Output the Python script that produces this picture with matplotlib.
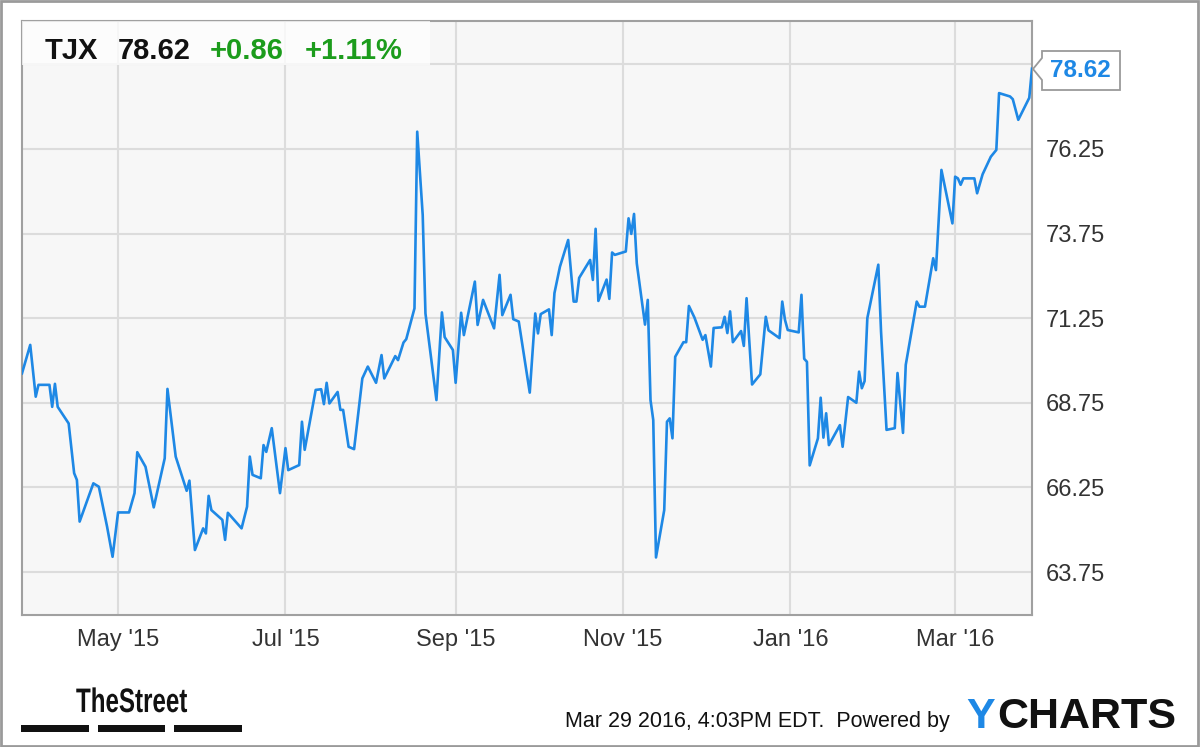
import matplotlib
matplotlib.use('Agg')
import matplotlib.pyplot as plt
import pandas as pd
from matplotlib.patches import Rectangle, Polygon, PathPatch
from matplotlib.textpath import TextPath
from matplotlib.font_manager import FontProperties
from matplotlib.transforms import Affine2D

# TJX daily close
dates = ['2015-03-27', '2015-03-30', '2015-04-01', '2015-04-02', '2015-04-06', '2015-04-07',
         '2015-04-08', '2015-04-09', '2015-04-13', '2015-04-15', '2015-04-16', '2015-04-17',
         '2015-04-22', '2015-04-24', '2015-04-27', '2015-04-29', '2015-05-01', '2015-05-05',
         '2015-05-07', '2015-05-08', '2015-05-11', '2015-05-14', '2015-05-18', '2015-05-19',
         '2015-05-22', '2015-05-26', '2015-05-27', '2015-05-29', '2015-06-01', '2015-06-02',
         '2015-06-03', '2015-06-04', '2015-06-08', '2015-06-09', '2015-06-10', '2015-06-15',
         '2015-06-17', '2015-06-18', '2015-06-19', '2015-06-22', '2015-06-23', '2015-06-24',
         '2015-06-26', '2015-06-29', '2015-07-01', '2015-07-02', '2015-07-06', '2015-07-07',
         '2015-07-08', '2015-07-12', '2015-07-14', '2015-07-15', '2015-07-16', '2015-07-17',
         '2015-07-20', '2015-07-21', '2015-07-22', '2015-07-24', '2015-07-26', '2015-07-29',
         '2015-07-31', '2015-08-03', '2015-08-05', '2015-08-06', '2015-08-10', '2015-08-11',
         '2015-08-13', '2015-08-14', '2015-08-17', '2015-08-18', '2015-08-20', '2015-08-21',
         '2015-08-25', '2015-08-27', '2015-08-28', '2015-08-31', '2015-09-01', '2015-09-03',
         '2015-09-04', '2015-09-08', '2015-09-09', '2015-09-11', '2015-09-15', '2015-09-17',
         '2015-09-18', '2015-09-21', '2015-09-22', '2015-09-24', '2015-09-28', '2015-09-30',
         '2015-10-01', '2015-10-02', '2015-10-05', '2015-10-06', '2015-10-07', '2015-10-09',
         '2015-10-12', '2015-10-14', '2015-10-15', '2015-10-16', '2015-10-20', '2015-10-21',
         '2015-10-22', '2015-10-23', '2015-10-26', '2015-10-27', '2015-10-28', '2015-10-29',
         '2015-11-02', '2015-11-03', '2015-11-04', '2015-11-05', '2015-11-06', '2015-11-09',
         '2015-11-10', '2015-11-11', '2015-11-12', '2015-11-13', '2015-11-16', '2015-11-17',
         '2015-11-18', '2015-11-19', '2015-11-20', '2015-11-23', '2015-11-24', '2015-11-25',
         '2015-11-27', '2015-11-30', '2015-12-01', '2015-12-03', '2015-12-04', '2015-12-07',
         '2015-12-08', '2015-12-09', '2015-12-10', '2015-12-11', '2015-12-14', '2015-12-15',
         '2015-12-16', '2015-12-18', '2015-12-21', '2015-12-23', '2015-12-24', '2015-12-28',
         '2015-12-29', '2015-12-30', '2015-12-31', '2016-01-04', '2016-01-05', '2016-01-06',
         '2016-01-07', '2016-01-08', '2016-01-11', '2016-01-12', '2016-01-13', '2016-01-14',
         '2016-01-15', '2016-01-19', '2016-01-20', '2016-01-22', '2016-01-25', '2016-01-26',
         '2016-01-27', '2016-01-28', '2016-01-29', '2016-02-02', '2016-02-03', '2016-02-05',
         '2016-02-08', '2016-02-09', '2016-02-11', '2016-02-12', '2016-02-16', '2016-02-17',
         '2016-02-19', '2016-02-22', '2016-02-23', '2016-02-24', '2016-02-25', '2016-02-29',
         '2016-03-01', '2016-03-02', '2016-03-03', '2016-03-04', '2016-03-08', '2016-03-09',
         '2016-03-11', '2016-03-14', '2016-03-16', '2016-03-17', '2016-03-21', '2016-03-22',
         '2016-03-24', '2016-03-28', '2016-03-29']
prices = [69.62, 70.46, 68.93, 69.28, 69.28, 68.63,
          69.31, 68.63, 68.14, 66.67, 66.47, 65.24,
          66.37, 66.27, 65.09, 64.20, 65.51, 65.51,
          66.08, 67.29, 66.86, 65.66, 67.11, 69.16,
          67.16, 66.15, 66.45, 64.40, 65.04, 64.89,
          66.00, 65.58, 65.29, 64.70, 65.50, 65.04,
          65.68, 67.16, 66.62, 66.52, 67.50, 67.30,
          68.00, 66.08, 67.41, 66.76, 66.91, 68.19,
          67.36, 69.13, 69.15, 68.71, 69.34, 68.73,
          69.07, 68.54, 68.54, 67.45, 67.38, 69.47,
          69.82, 69.34, 70.16, 69.47, 70.13, 70.01,
          70.53, 70.63, 71.54, 76.76, 74.30, 71.39,
          68.83, 71.42, 70.69, 70.31, 69.34, 71.41,
          70.75, 72.33, 71.05, 71.79, 70.95, 72.53,
          71.34, 71.94, 71.22, 71.15, 69.05, 71.39,
          70.80, 71.37, 71.51, 70.75, 71.99, 72.77,
          73.56, 71.74, 71.74, 72.44, 72.97, 72.38,
          73.89, 71.76, 72.39, 71.82, 73.19, 73.12,
          73.22, 74.20, 73.74, 74.33, 72.87, 71.06,
          71.79, 68.83, 68.24, 64.18, 65.58, 68.19,
          68.29, 67.70, 70.11, 70.54, 70.54, 71.61,
          71.27, 70.61, 70.75, 69.82, 70.96, 70.98,
          71.29, 70.81, 71.45, 70.54, 70.87, 70.43,
          71.84, 69.29, 69.59, 71.29, 70.89, 70.66,
          71.74, 71.20, 70.90, 70.83, 71.94, 70.05,
          69.96, 66.90, 67.70, 68.90, 67.72, 68.44,
          67.50, 68.09, 67.45, 68.92, 68.75, 69.67,
          69.18, 69.39, 71.25, 72.83, 70.85, 67.95,
          68.00, 69.63, 67.86, 69.87, 71.74, 71.59,
          71.59, 73.02, 72.67, 74.15, 75.63, 74.05,
          75.43, 75.38, 75.19, 75.38, 75.38, 74.94,
          75.50, 76.02, 76.22, 77.90, 77.80, 77.72,
          77.11, 77.76, 78.62]

ticker = 'TJX'
last_price = '78.62'
change = '+0.86'
change_pct = '+1.11%'
y_ticks = [63.75, 66.25, 68.75, 71.25, 73.75, 76.25, 78.75]
y_labels = ['63.75', '66.25', '68.75', '71.25', '73.75', '76.25', '']
x_ticks = ['2015-05-01', '2015-07-01', '2015-09-01', '2015-11-01', '2016-01-01', '2016-03-01']
x_labels = ["May '15", "Jul '15", "Sep '15", "Nov '15", "Jan '16", "Mar '16"]
footer = 'Mar 29 2016, 4:03PM EDT.  Powered by'

W, H = 1200, 747
BLUE = '#1e88e5'
GREEN = '#1c9c1c'
plt.rcParams['font.family'] = ['Liberation Sans', 'DejaVu Sans']


def fx(x):
    return x / W


def fy(y):
    return 1 - y / H


fig = plt.figure(figsize=(12, 7.47), dpi=100)
fig.patch.set_facecolor('white')
ax = fig.add_axes([fx(22), fy(615), 1010 / W, 594 / H])
ax.set_facecolor('#f7f7f7')

ax.plot(pd.to_datetime(dates), prices, color=BLUE, lw=1.9, zorder=3)

ax.set_xlim(pd.Timestamp('2015-03-27'), pd.Timestamp('2016-03-29'))
ax.set_ylim(62.48, 80.03)
ax.set_xticks(pd.to_datetime(x_ticks))
ax.set_xticklabels(x_labels)
ax.set_yticks(y_ticks)
ax.set_yticklabels(y_labels)
ax.yaxis.tick_right()
ax.tick_params(axis='both', length=0, labelsize=17, colors='#333333')
ax.tick_params(axis='x', pad=10)
ax.tick_params(axis='y', pad=10)
ax.grid(True, color='#dcdcdc', lw=1.5)
ax.set_axisbelow(True)
for s in ax.spines.values():
    s.set_color('#a0a0a0')
    s.set_linewidth(1.5)

# header box with quote
fig.add_artist(Rectangle((fx(22), fy(65)), 408 / W, 44 / H, transform=fig.transFigure,
                         facecolor='white', alpha=0.75, edgecolor='none', zorder=5))
fig.text(fx(45), fy(59), ticker, fontsize=21, fontweight='bold', color='#111111', zorder=6)
fig.text(fx(118), fy(59), last_price, fontsize=21, fontweight='bold', color='#111111', zorder=6)
fig.text(fx(210), fy(59), change, fontsize=21, fontweight='bold', color=GREEN, zorder=6)
fig.text(fx(305), fy(59), change_pct, fontsize=21, fontweight='bold', color=GREEN, zorder=6)

# last price flag
flag = [(1033, 69), (1042, 58), (1042, 51), (1120, 51), (1120, 90), (1042, 90), (1042, 80)]
fig.add_artist(Polygon([(fx(a), fy(b)) for a, b in flag], closed=True, transform=fig.transFigure,
                       facecolor='white', edgecolor='#9a9a9a', lw=1.3, zorder=5))
fig.text(fx(1080), fy(70.5), last_price, fontsize=17.5, fontweight='bold', color=BLUE,
         ha='center', va='center', zorder=6)

# footer: condensed "TheStreet" logo drawn as a squeezed text path
tp = TextPath((0, 0), 'TheStreet', size=34, prop=FontProperties(family='Liberation Sans', weight='bold'))
squeeze = Affine2D().scale(0.71, 1).translate(76, H - 712) + Affine2D().scale(1 / W, 1 / H) + fig.transFigure
fig.add_artist(PathPatch(tp, transform=squeeze, facecolor='#111111', edgecolor='none'))
for x0, x1 in [(21, 89), (98, 165), (174, 242)]:
    fig.add_artist(Rectangle((fx(x0), fy(732)), (x1 - x0) / W, 7 / H, transform=fig.transFigure,
                             facecolor='#111111', edgecolor='none'))
fig.text(fx(565), fy(727), footer, fontsize=15.5, color='#111111')
fig.text(fx(966), fy(728), 'Y', fontsize=31, fontweight='bold', color='#1e88e5')
fig.text(fx(997), fy(728), 'CHARTS', fontsize=31, fontweight='bold', color='#111111')

# outer frame
fig.add_artist(Rectangle((fx(1), fy(746)), 1197 / W, 745 / H, transform=fig.transFigure,
                         facecolor='none', edgecolor='#9a9a9a', lw=2))

fig.savefig('out.png', dpi=100)
